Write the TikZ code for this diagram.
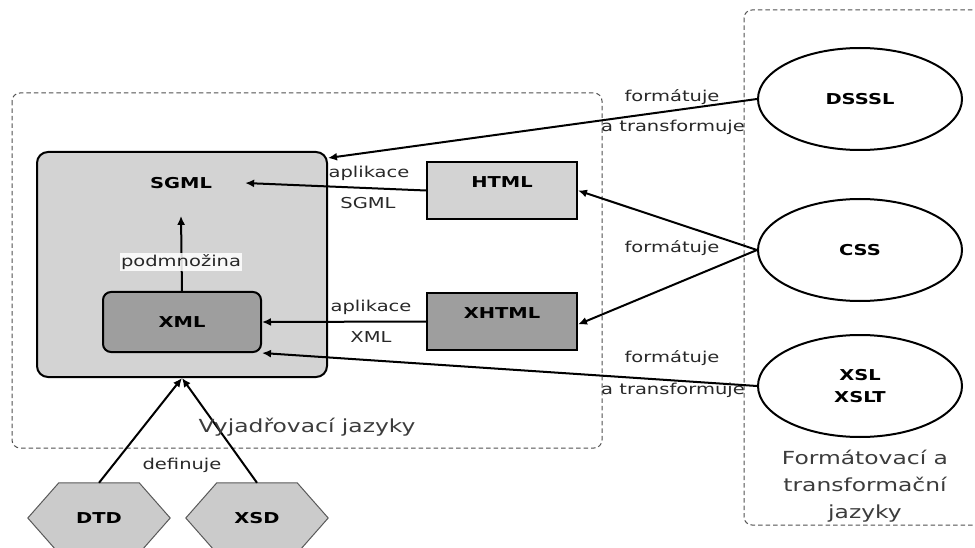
\documentclass[tikz,border=0pt]{standalone}
\usepackage{fontspec}
\setmainfont{DejaVu Sans}[FakeStretch=1.3]
\usetikzlibrary{shapes.geometric,arrows.meta,backgrounds}

\definecolor{lightfill}{RGB}{211,211,211}
\definecolor{darkfill}{RGB}{158,158,158}
\definecolor{hexfill}{RGB}{203,203,203}
\definecolor{labelgray}{RGB}{40,40,40}
\definecolor{regiongray}{RGB}{60,60,60}
\definecolor{framegray}{RGB}{80,80,80}

\begin{document}
\begin{tikzpicture}[x=1pt,y=-1pt,
  every node/.style={font=\fontsize{15}{18}\selectfont, inner sep=0pt},
  lbl/.style={text=labelgray},
  regionlbl/.style={text=regiongray, font=\fontsize{18}{27}\selectfont, align=center},
  region/.style={draw=framegray, line width=1pt, dash pattern=on 4.5pt off 3pt, rounded corners=8pt},
  bold/.style={font=\fontsize{15}{22}\selectfont\bfseries, text=black},
  outerbox/.style={draw=black, line width=2pt, fill=lightfill, rounded corners=11pt,
    minimum width=290pt, minimum height=225pt},
  innerbox/.style={bold, draw=black, line width=2pt, fill=darkfill, rounded corners=8pt,
    minimum width=158pt, minimum height=60pt},
  pagebox/.style={bold, draw=black, line width=2pt, minimum width=150pt, minimum height=57pt,
    text height=11pt, text depth=17pt},
  stylesheet/.style={bold, ellipse, draw=black, line width=2pt, fill=white,
    minimum width=204pt, minimum height=102pt, align=center},
  schema/.style={bold, rectangle, minimum width=80pt, minimum height=70pt},
  hexline/.style={draw=black!65, line width=1pt, fill=hexfill},
  arr/.style={draw=black, line width=2pt, -{Latex[length=9pt,width=8pt]}}
]
\useasboundingbox (0,0) rectangle (975,548);

% dashed regions
\draw[region] (12,93) rectangle (602,448);
\draw[region] (744,10) rectangle (990,525);

% markup languages
\node[outerbox] (sgml) at (182,264.5) {};
\node[bold] (sgmltxt) at (181,183) {SGML};
\node[innerbox] (xml) at (182,322) {XML};
\node[pagebox, fill=lightfill] (html) at (502,190.5) {HTML};
\node[pagebox, fill=darkfill] (xhtml) at (502,321.5) {XHTML};

% formatting and transformation languages
\node[stylesheet] (dsssl) at (860,99) {DSSSL};
\node[stylesheet] (css) at (860,250) {CSS};
\node[stylesheet] (xsl) at (860,386) {XSL\\XSLT};

% schema languages
\node[schema] (dtd) at (99,518) {DTD};
\node[schema] (xsd) at (257,518) {XSD};
\begin{scope}[on background layer]
  \foreach \h in {dtd,xsd}
    \draw[hexline] (\h.north west) -- (\h.north east) -- ([xshift=31pt]\h.east)
      -- (\h.south east) -- (\h.south west) -- ([xshift=-31pt]\h.west) -- cycle;
\end{scope}

% connectors
\draw[arr] (html.west) -- ([xshift=33pt]sgmltxt.east);
\draw[arr] (xhtml.west) -- (xml.east);
\draw[arr] (xml.north) -- ([yshift=-27pt]sgmltxt.south);
\draw[arr] (dsssl.west) -- ([yshift=-7pt]sgml.north east);
\draw[arr] (css.west) -- (html.east);
\draw[arr] (css.west) -- ([yshift=-3pt]xhtml.east);
\draw[arr] (xsl.west) -- (xml.south east);
\draw[arr] (dtd.north) -- (sgml.south);
\draw[arr] (xsd.north) -- (sgml.south);

% connector labels
\node[lbl] (f1) at (672,97) {formátuje};
\node[lbl] (t1) at (673,127) {a transformuje};
\node[lbl] (f2) at (672,248) {formátuje};
\node[lbl] (f3) at (672,358) {formátuje};
\node[lbl] (t3) at (673,390) {a transformuje};
\node[lbl] (a1) at (369,173) {aplikace};
\node[lbl] (s1) at (368,203) {SGML};
\node[lbl] (a2) at (371,307) {aplikace};
\node[lbl] (x2) at (371,337) {XML};
\node[lbl] (def) at (182,465) {definuje};
\node[lbl, fill=white, fill opacity=0.85, text opacity=1, inner sep=1pt] (sub) at (181,262) {podmnožina};

% region titles
\node[regionlbl] (vj) at (307,427) {Vyjadřovací jazyky};
\node[regionlbl] (fj) at (865,486) {Formátovací a\\transformační\\jazyky};
\end{tikzpicture}
\end{document}
